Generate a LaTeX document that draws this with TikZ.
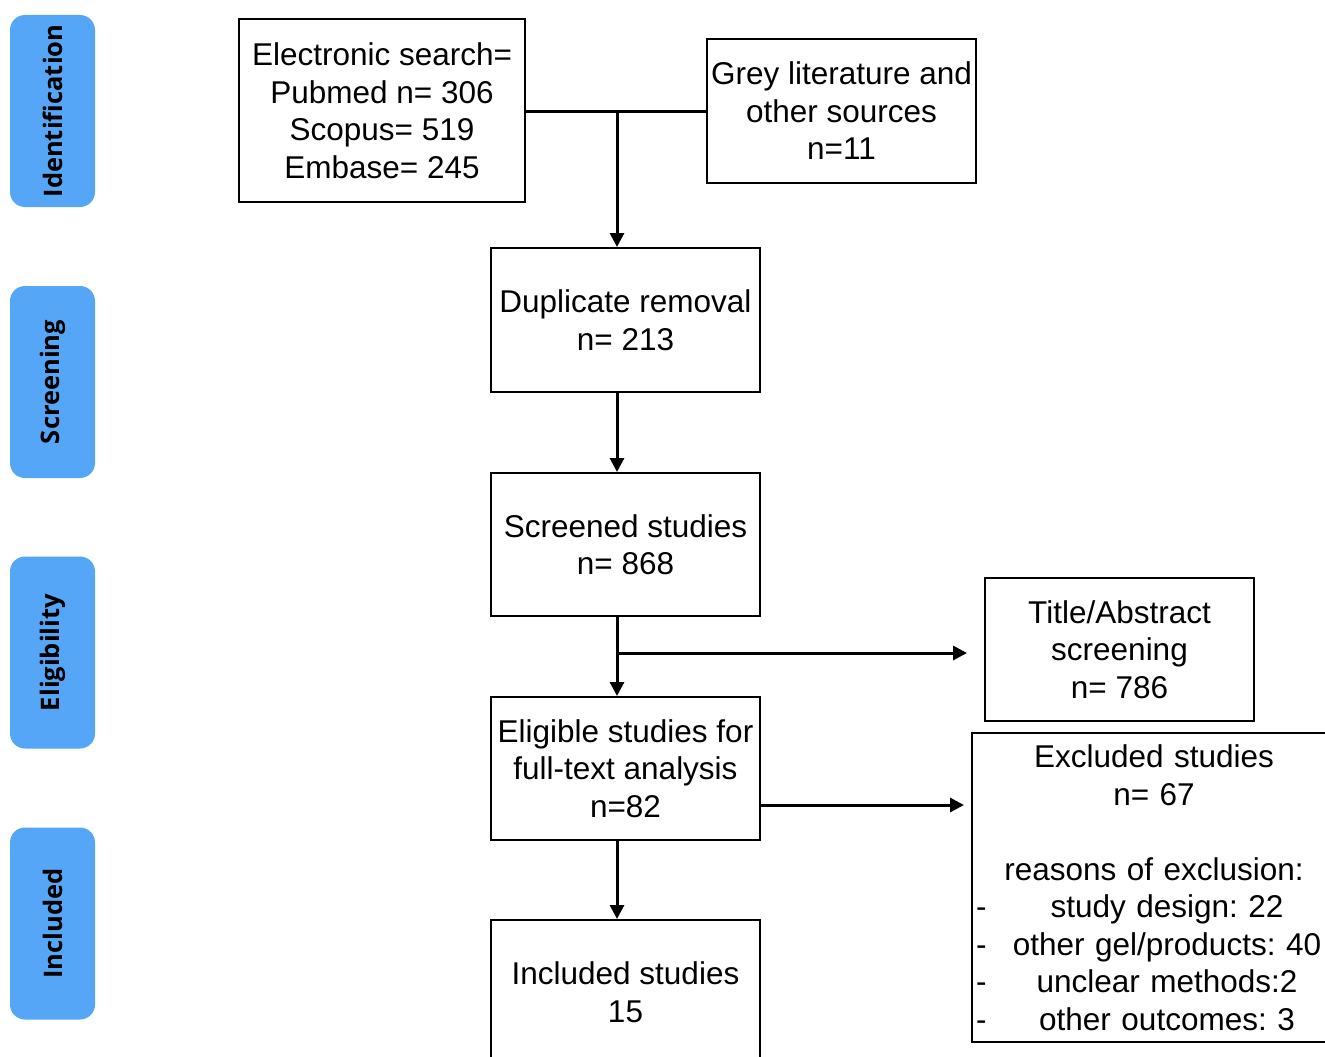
\documentclass[tikz,border=0pt]{standalone}
\usepackage{fontspec}
\setmainfont{Liberation Sans}
\newfontfamily\phasefont{Open Sans}
\usetikzlibrary{arrows.meta}
\frenchspacing

\tikzstyle{phase-box}=[rounded corners=15pt, fill={PhaseBlue}, rotate=90, minimum width=192pt, minimum height=85pt, inner sep=0pt, font=\phasefont\bfseries\fontsize{25.5}{25.5}\selectfont]
\tikzstyle{flow-box}=[draw, line width=2pt, minimum width=269pt, minimum height=144pt, inner sep=0pt, align=center, font=\fontsize{31.5}{37.5}\selectfont]
\tikzstyle{flow-line}=[line width=3pt]
\tikzstyle{flow-arrow}=[line width=3pt, -{Triangle[length=14pt,width=14pt]}]
\definecolor{PhaseBlue}{HTML}{55A6F6}

\begin{document}
\begin{tikzpicture}[x=1pt,y=-1pt]
      \clip (0,0) rectangle (1325,1057);
      \fill[white] (0,0) rectangle (1325,1057);

      % phases
      \node (phase-ident) at (52.5,111) [phase-box] {Identification};
      \node (phase-screen) at (52.5,382) [phase-box] {Screening};
      \node (phase-elig) at (52.5,652.5) [phase-box] {Eligibility};
      \node (phase-incl) at (52.5,923.5) [phase-box] {Included};

      % boxes
      \node (box-search) at (382,110.5) [flow-box, minimum width=286pt, minimum height=183pt] {Electronic search=\\Pubmed n= 306\\Scopus= 519\\Embase= 245};
      \node (box-grey) at (841.5,111) [flow-box] {Grey literature and\\other sources\\n=11};
      \node (box-dup) at (625.5,320) [flow-box] {Duplicate removal\\n= 213};
      \node (box-screen) at (625.5,544.5) [flow-box, minimum height=143pt] {Screened studies\\n= 868};
      \node (box-title) at (1119.5,649.5) [flow-box, minimum height=143pt] {Title/Abstract\\screening\\n= 786};
      \node (box-elig) at (625.5,768.5) [flow-box, minimum height=143pt] {Eligible studies for\\full-text analysis\\n=82};
      \node (box-excl) at (1154,887.5) [flow-box, minimum width=364pt, minimum height=309pt, text width=356pt] {Excluded studies\\n= 67\\[37.5pt]reasons of exclusion:\\
        \makebox[\linewidth][l]{\rlap{-}\hspace{26pt}\hfill study design: 22\hfill}\\
        \makebox[\linewidth][l]{\rlap{-}\hspace{26pt}\hfill other gel/products: 40\hfill}\\
        \makebox[\linewidth][l]{\rlap{-}\hspace{26pt}\hfill unclear methods:2\hfill}\\
        \makebox[\linewidth][l]{\rlap{-}\hspace{26pt}\hfill other outcomes: 3\hfill}};
      \node (box-incl) at (625.5,992) [flow-box] {Included studies\\15};

      % connectors
      \coordinate (join-top) at (617,111);
      \coordinate (join-title) at (617,653);
      \coordinate (join-excl) at (760,805);
      \draw[flow-line] (box-search.east |- join-top) -- (box-grey.west |- join-top);
      \draw[flow-arrow] (join-top) -- (join-top |- box-dup.north);
      \draw[flow-arrow] (join-top |- box-dup.south) -- (join-top |- box-screen.north);
      \draw[flow-arrow] (join-top |- box-screen.south) -- (join-top |- box-elig.north);
      \draw[flow-arrow, shorten >=17pt] (join-title) -- (box-title.west |- join-title);
      \draw[flow-arrow, shorten >=7pt] (join-excl) -- (box-excl.west |- join-excl);
      \draw[flow-arrow] (join-top |- box-elig.south) -- (join-top |- box-incl.north);
    \end{tikzpicture}
\end{document}
